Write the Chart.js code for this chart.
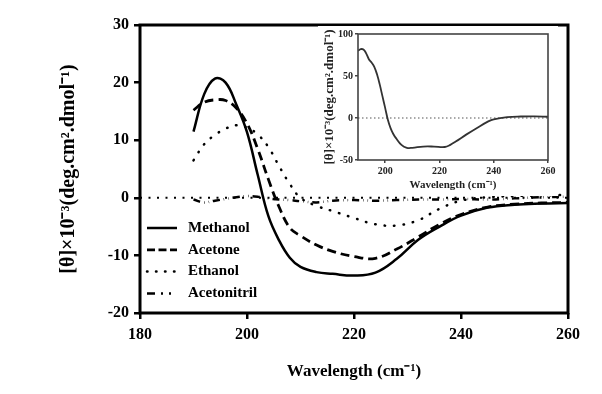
<!DOCTYPE html>
<html>
<head>
<meta charset="utf-8">
<script src="https://cdn.jsdelivr.net/npm/chart.js@4.4.1/dist/chart.umd.min.js"></script>
<style>
    body { margin: 0; background: #fff; }
    #wrap { position: relative; width: 602px; height: 394px; }
    #main { position: absolute; left: 0; top: 0; }
    #inset { position: absolute; left: 318px; top: 26px; background: #fff; }
</style>
</head>
<body>
<div id="wrap">
    <canvas id="main" width="602" height="394"></canvas>
    <canvas id="inset" width="240" height="170"></canvas>
</div>
<script>
// Main panel data (wavelength in nm, ellipticity x10^-3)
const wavelength = [190, 192, 194, 196, 198, 200, 202, 204, 206, 208, 210, 213, 216, 220, 224, 228, 232, 236, 240, 245, 250, 255, 260];
const methanol = [11.5, 18.0, 20.7, 20.0, 16.2, 11.4, 4.0, -3.2, -7.4, -10.4, -12.0, -12.9, -13.2, -13.5, -13.0, -10.6, -7.3, -5.0, -3.1, -1.7, -1.2, -1.0, -0.9];
const acetone = [15.2, 16.6, 17.0, 16.9, 15.6, 12.9, 8.5, 3.2, -1.6, -5.2, -6.6, -8.2, -9.3, -10.2, -10.5, -8.9, -6.8, -4.6, -2.9, -1.6, -1.1, -0.9, -0.8];
const ethanol = [6.5, 9.3, 10.9, 12.0, 12.6, 12.2, 11.0, 8.8, 5.5, 2.4, 0.0, -1.4, -2.3, -3.5, -4.6, -4.8, -3.9, -1.9, -0.5, 0.1, 0.3, 0.4, 0.5];
const acetonitril = [-0.3, -0.8, -0.5, -0.2, 0.1, 0.3, 0.2, -0.1, -0.3, -0.4, -0.6, -0.8, -0.5, -0.4, -0.5, -0.4, -0.3, -0.3, -0.2, -0.3, -0.1, 0.1, 0.2];
const zeroLineX = [180, 260];
const zeroLineY = [0, 0];

const xTicksMain = [180, 200, 220, 240, 260];
const yTicksMain = [-20, -10, 0, 10, 20, 30];

// Inset data
const insetWavelength = [190, 191, 192, 193, 194, 195, 196, 197, 198, 199, 200, 201, 202, 203, 204, 206, 208, 210, 214, 218, 222, 224, 226, 230, 234, 238, 240, 245, 250, 255, 260];
const insetTheta = [80, 82, 81.5, 77, 70, 66, 61, 52, 40, 26, 12, -2, -12, -19, -24, -32, -35.5, -35.5, -34, -34, -34.5, -32, -28, -19.5, -11.5, -4, -1.5, 1, 1.8, 2, 1.5];
const insetZeroX = [190, 260];
const insetZeroY = [0, 0];

const xTicksInset = [200, 220, 240, 260];
const yTicksInset = [-50, 0, 50, 100];

const SERIF = "'Liberation Serif', 'Times New Roman', serif";
const Y_TITLE = '[θ]×10⁻³(deg.cm².dmol⁻¹)';
const X_TITLE = 'Wavelength (cm⁻¹)';

function pairs(xs, ys) {
    return xs.map((x, i) => ({ x: x, y: ys[i] }));
}

function curve(label, ys, dash, extra) {
    return Object.assign({
        label: label,
        data: pairs(wavelength, ys),
        borderColor: '#000',
        borderWidth: 2.5,
        borderDash: dash,
        pointRadius: 0,
        tension: 0.4,
        fill: false
    }, extra || {});
}

// draws the closed frame around the plot area
const frame = {
    id: 'frame',
    afterDraw(chart, args, opts) {
        const a = chart.chartArea, ctx = chart.ctx;
        ctx.save();
        ctx.strokeStyle = opts.color || '#000';
        ctx.lineWidth = opts.width || 3;
        ctx.setLineDash([]);
        ctx.strokeRect(a.left, a.top, a.right - a.left, a.bottom - a.top);
        ctx.restore();
    }
};

// legend drawn inside the plot, lower left
const innerLegend = {
    id: 'innerLegend',
    afterDraw(chart, args, opts) {
        if (!opts.show) return;
        const ctx = chart.ctx, a = chart.chartArea;
        const sets = chart.data.datasets.filter(d => !d.hideInLegend);
        ctx.save();
        ctx.font = 'bold 15px ' + SERIF;
        ctx.textBaseline = 'middle';
        ctx.fillStyle = '#000';
        sets.forEach((d, i) => {
            const y = opts.top + i * opts.rowGap;
            const x0 = a.left + 7;
            ctx.strokeStyle = '#000';
            ctx.lineWidth = d.borderWidth;
            ctx.lineCap = d.borderCapStyle || 'butt';
            ctx.setLineDash(d.legendDash || d.borderDash || []);
            ctx.beginPath();
            ctx.moveTo(x0, y);
            ctx.lineTo(x0 + 30, y);
            ctx.stroke();
            ctx.fillText(d.label, x0 + 41, y);
        });
        ctx.restore();
    }
};

new Chart(document.getElementById('main'), {
    type: 'line',
    data: {
        datasets: [
            curve('Methanol', methanol, []),
            curve('Acetone', acetone, [9, 5], { borderWidth: 2.8, legendDash: [8, 3.5] }),
            curve('Ethanol', ethanol, [0.5, 9], { borderCapStyle: 'round', legendDash: [0.5, 8.5] }),
            curve('Acetonitril', acetonitril, [7, 4, 0.5, 4, 0.5, 4], { borderCapStyle: 'butt', legendDash: [8, 6, 2, 6, 2, 20] }),
            {
                label: 'zero',
                hideInLegend: true,
                data: pairs(zeroLineX, zeroLineY),
                borderColor: '#000',
                borderWidth: 2,
                borderDash: [2, 6.5],
                pointRadius: 0
            }
        ]
    },
    options: {
        responsive: false,
        animation: false,
        events: [],
        layout: { padding: { left: 57, top: 25, right: 34, bottom: 12 } },
        plugins: {
            legend: { display: false },
            tooltip: { enabled: false },
            innerLegend: { show: true, top: 228, rowGap: 21.8 }
        },
        scales: {
            x: {
                type: 'linear',
                min: 180,
                max: 260,
                afterBuildTicks: s => { s.ticks = xTicksMain.map(v => ({ value: v })); },
                afterFit: s => { s.height = 69; },
                ticks: { color: '#000', padding: 6, font: { family: SERIF, weight: 'bold', size: 16 } },
                grid: { drawOnChartArea: false, drawTicks: true, tickLength: 6, color: '#000', lineWidth: 2.5 },
                border: { display: false },
                title: { display: true, text: X_TITLE, color: '#000', padding: 0, font: { family: SERIF, weight: 'bold', size: 17 } }
            },
            y: {
                min: -20,
                max: 30,
                afterBuildTicks: s => { s.ticks = yTicksMain.map(v => ({ value: v })); },
                afterFit: s => { s.width = 83; },
                ticks: { color: '#000', padding: 5, font: { family: SERIF, weight: 'bold', size: 16 } },
                grid: { drawOnChartArea: false, drawTicks: true, tickLength: 6, color: '#000', lineWidth: 2.5 },
                border: { display: false },
                title: { display: true, text: Y_TITLE, color: '#000', padding: 0, font: { family: SERIF, weight: 'bold', size: 20 } }
            }
        }
    },
    plugins: [frame, innerLegend]
});

new Chart(document.getElementById('inset'), {
    type: 'line',
    data: {
        datasets: [
            {
                label: 'inset',
                data: pairs(insetWavelength, insetTheta),
                borderColor: '#333',
                borderWidth: 1.8,
                pointRadius: 0,
                tension: 0.4
            },
            {
                label: 'zero',
                data: pairs(insetZeroX, insetZeroY),
                borderColor: '#555',
                borderWidth: 1.2,
                borderDash: [1.5, 2.5],
                pointRadius: 0
            }
        ]
    },
    options: {
        responsive: false,
        animation: false,
        events: [],
        layout: { padding: { left: 4, top: 7, right: 10, bottom: 4 } },
        plugins: {
            legend: { display: false },
            tooltip: { enabled: false },
            frame: { color: '#444', width: 1.6 },
            innerLegend: { show: false }
        },
        scales: {
            x: {
                type: 'linear',
                min: 190,
                max: 260,
                afterBuildTicks: s => { s.ticks = xTicksInset.map(v => ({ value: v })); },
                afterFit: s => { s.height = 32; },
                ticks: { color: '#222', padding: 2, font: { family: SERIF, weight: 'bold', size: 10 } },
                grid: { drawOnChartArea: false, drawTicks: true, tickLength: 3, color: '#444', lineWidth: 1.5 },
                border: { display: false },
                title: { display: true, text: X_TITLE, color: '#222', padding: 0, font: { family: SERIF, weight: 'bold', size: 11 } }
            },
            y: {
                min: -50,
                max: 100,
                afterBuildTicks: s => { s.ticks = yTicksInset.map(v => ({ value: v })); },
                afterFit: s => { s.width = 36; },
                ticks: { color: '#222', padding: 2, font: { family: SERIF, weight: 'bold', size: 10 } },
                grid: { drawOnChartArea: false, drawTicks: true, tickLength: 3, color: '#444', lineWidth: 1.5 },
                border: { display: false },
                title: { display: true, text: Y_TITLE, color: '#222', padding: 0, font: { family: SERIF, weight: 'bold', size: 13 } }
            }
        }
    },
    plugins: [frame, innerLegend]
});
</script>
</body>
</html>
